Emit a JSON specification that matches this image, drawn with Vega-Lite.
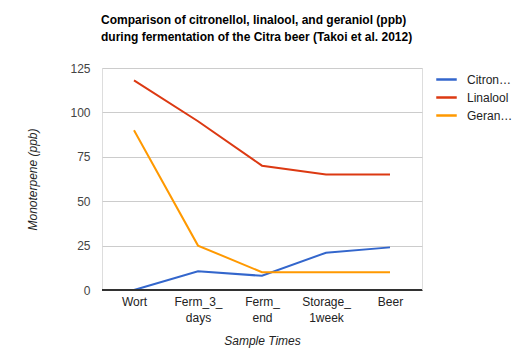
{
  "$schema": "https://vega.github.io/schema/vega-lite/v6.json",
  "autosize": {"type": "none"},
  "width": 320,
  "height": 222,
  "padding": {"left": 102, "top": 68, "right": 100, "bottom": 70},
  "background": "white",
  "title": {
    "text": ["Comparison of citronellol, linalool, and geraniol (ppb)", "during fermentation of the Citra beer (Takoi et al. 2012)"],
    "anchor": "start",
    "frame": "group",
    "font": "Liberation Sans",
    "fontSize": 12,
    "fontWeight": "bold",
    "color": "#000000",
    "lineHeight": 17,
    "offset": 18,
    "dx": -1
  },
  "data": {
    "values": [
      {"time": "Wort", "compound": "Citronellol", "ppb": 0},
      {"time": "Ferm_3_days", "compound": "Citronellol", "ppb": 10.5},
      {"time": "Ferm_end", "compound": "Citronellol", "ppb": 8},
      {"time": "Storage_1week", "compound": "Citronellol", "ppb": 21},
      {"time": "Beer", "compound": "Citronellol", "ppb": 24},
      {"time": "Wort", "compound": "Linalool", "ppb": 118},
      {"time": "Ferm_3_days", "compound": "Linalool", "ppb": 95},
      {"time": "Ferm_end", "compound": "Linalool", "ppb": 70},
      {"time": "Storage_1week", "compound": "Linalool", "ppb": 65},
      {"time": "Beer", "compound": "Linalool", "ppb": 65},
      {"time": "Wort", "compound": "Geraniol", "ppb": 90},
      {"time": "Ferm_3_days", "compound": "Geraniol", "ppb": 25},
      {"time": "Ferm_end", "compound": "Geraniol", "ppb": 10},
      {"time": "Storage_1week", "compound": "Geraniol", "ppb": 10},
      {"time": "Beer", "compound": "Geraniol", "ppb": 10}
    ]
  },
  "encoding": {
    "x": {
      "field": "time",
      "type": "nominal",
      "sort": ["Wort", "Ferm_3_days", "Ferm_end", "Storage_1week", "Beer"],
      "scale": {"type": "point", "padding": 0.5},
      "axis": {
        "title": "Sample Times",
        "titleFont": "Liberation Sans",
        "titleFontStyle": "italic",
        "titleFontWeight": "normal",
        "titleFontSize": 12,
        "titleColor": "#222222",
        "titlePadding": 12,
        "labelExpr": "datum.value == 'Ferm_3_days' ? ['Ferm_3_', 'days'] : datum.value == 'Ferm_end' ? ['Ferm_', 'end'] : datum.value == 'Storage_1week' ? ['Storage_', '1week'] : datum.value",
        "labelFont": "Liberation Sans",
        "labelFontSize": 12,
        "labelColor": "#222222",
        "labelAngle": 0,
        "labelPadding": 6,
        "labelLineHeight": 16,
        "ticks": false,
        "domain": true,
        "domainColor": "#333333",
        "domainWidth": 1,
        "grid": false
      }
    },
    "y": {
      "field": "ppb",
      "type": "quantitative",
      "scale": {"domain": [0, 125], "nice": false},
      "axis": {
        "title": "Monoterpene (ppb)",
        "titleFont": "Liberation Sans",
        "titleFontStyle": "italic",
        "titleFontWeight": "normal",
        "titleFontSize": 12,
        "titleColor": "#222222",
        "titlePadding": 30,
        "values": [0, 25, 50, 75, 100, 125],
        "labelFont": "Liberation Sans",
        "labelFontSize": 12,
        "labelColor": "#444444",
        "labelPadding": 12,
        "ticks": false,
        "domain": false,
        "grid": true,
        "gridColor": "#cccccc",
        "gridWidth": 1
      }
    },
    "color": {
      "field": "compound",
      "type": "nominal",
      "sort": ["Citronellol", "Linalool", "Geraniol"],
      "scale": {"domain": ["Citronellol", "Linalool", "Geraniol"], "range": ["#3366cc", "#dc3912", "#ff9900"]},
      "legend": {
        "title": null,
        "orient": "right",
        "offset": 13,
        "symbolType": "stroke",
        "symbolStrokeWidth": 2.5,
        "symbolSize": 420,
        "labelOffset": 9,
        "labelFont": "Liberation Sans",
        "labelFontSize": 12,
        "labelColor": "#222222",
        "labelLimit": 100,
        "labelExpr": "datum.label == 'Citronellol' ? 'Citron…' : datum.label == 'Geraniol' ? 'Geran…' : datum.label",
        "rowPadding": 0,
        "padding": 0
      }
    }
  },
  "layer": [
    {"mark": {"type": "line", "strokeWidth": 2}},
    {"mark": {"type": "rule", "color": "#333333"}, "encoding": {"x": null, "color": null, "y": {"datum": 0}}}
  ]
}
